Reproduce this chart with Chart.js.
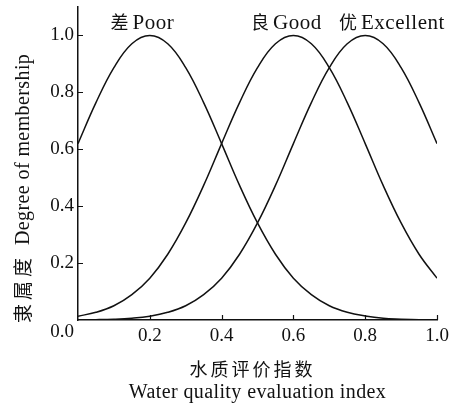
<!DOCTYPE html>
<html>
<head>
<meta charset="utf-8">
<script src="https://cdn.jsdelivr.net/npm/chart.js@4/dist/chart.umd.min.js"></script>
<style>
  html, body { margin: 0; padding: 0; background: #fff; }
</style>
</head>
<body>
<canvas id="chart" width="450" height="404"></canvas>
<script>
// 水质评价指数（横轴取样点）
const xs = [0, 0.05, 0.1, 0.15, 0.2, 0.25, 0.3, 0.35, 0.4, 0.45, 0.5,
            0.55, 0.6, 0.65, 0.7, 0.75, 0.8, 0.85, 0.9, 0.95, 1.0];
// 隶属度 —— 差 / 良 / 优
const poor      = [0.62, 0.764, 0.887, 0.971, 1.0, 0.971, 0.887, 0.764, 0.62, 0.473, 0.341,
                   0.231, 0.147, 0.089, 0.05, 0.027, 0.014, 0.006, 0.003, 0.001, 0.0005];
const good      = [0.0135, 0.027, 0.05, 0.089, 0.147, 0.231, 0.341, 0.473, 0.62, 0.764, 0.887,
                   0.971, 1.0, 0.971, 0.887, 0.764, 0.62, 0.473, 0.341, 0.231, 0.147];
const excellent = [0.0005, 0.0012, 0.0028, 0.0064, 0.0135, 0.027, 0.05, 0.089, 0.147, 0.231, 0.341,
                   0.473, 0.62, 0.764, 0.887, 0.971, 1.0, 0.971, 0.887, 0.764, 0.62];
const xTicks = [0.2, 0.4, 0.6, 0.8, 1.0];
const yTicks = [0.2, 0.4, 0.6, 0.8, 1.0];
const curveLabels = ['差 Poor', '良 Good', '优 Excellent'];
const xTitle = ['水质评价指数', 'Water quality evaluation index'];
const yTitle = ['隶属度', 'Degree of membership'];

const INK = '#111';
const SERIF = '"Liberation Serif", "Noto Sans CJK SC", serif';
const CJK = '"Noto Sans CJK SC", "Liberation Serif", sans-serif';

const toPts = ys => xs.map((x, i) => ({ x: x, y: ys[i] }));

// 内向刻度、曲线标注、坐标轴标题
const decor = {
  id: 'decor',
  afterDraw(chart) {
    const ctx = chart.ctx, xa = chart.scales.x, ya = chart.scales.y;
    const ca = chart.chartArea;
    ctx.save();
    ctx.strokeStyle = INK;
    ctx.lineWidth = 1.2;
    ctx.beginPath();
    xTicks.forEach(v => {
      const px = Math.round(xa.getPixelForValue(v)) + 0.5;
      ctx.moveTo(px, ca.bottom); ctx.lineTo(px, ca.bottom - 5);
    });
    yTicks.forEach(v => {
      const py = Math.round(ya.getPixelForValue(v)) + 0.5;
      ctx.moveTo(ca.left, py); ctx.lineTo(ca.left + 5, py);
    });
    ctx.stroke();

    ctx.fillStyle = INK;
    // 0.0 at the corner
    ctx.font = '19px ' + SERIF;
    ctx.textAlign = 'right';
    ctx.textBaseline = 'alphabetic';
    ctx.fillText('0.0', ca.left - 4, ca.bottom + 17);

    // curve labels: 中文字 + 英文
    const lx = [0.21, 0.611, 0.905];
    curveLabels.forEach((t, i) => {
      const [zh, en] = t.split(' ');
      const px = xa.getPixelForValue(lx[i]);
      ctx.font = '21px ' + SERIF;
      ctx.letterSpacing = '0.5px';
      ctx.textAlign = 'center';
      const w = ctx.measureText(en).width;
      ctx.fillText(en, px, 29);
      ctx.font = '18px ' + CJK;
      ctx.letterSpacing = '0px';
      ctx.textAlign = 'right';
      ctx.fillText(zh, px - w / 2 - 4, 29);
    });

    // x title
    const cx = (ca.left + ca.right) / 2;
    ctx.textAlign = 'center';
    ctx.font = '18px ' + CJK;
    ctx.letterSpacing = '3px';
    ctx.fillText(xTitle[0], cx - 5, 376);
    ctx.font = '20px ' + SERIF;
    ctx.letterSpacing = '0.4px';
    ctx.fillText(xTitle[1], cx, 398);

    // y title (rotated)
    ctx.translate(29, 0);
    ctx.rotate(-Math.PI / 2);
    ctx.textAlign = 'left';
    ctx.font = '19px ' + CJK;
    ctx.letterSpacing = '4px';
    ctx.fillText(yTitle[0], -323, 1);
    ctx.font = '20px ' + SERIF;
    ctx.letterSpacing = '0.4px';
    ctx.fillText(yTitle[1], -245, 0);
    ctx.restore();
  }
};

const lineDs = (label, ys) => ({
  label: label,
  data: toPts(ys),
  borderColor: INK,
  borderWidth: 1.5,
  pointRadius: 0,
  fill: false,
  tension: 0.4
});

new Chart(document.getElementById('chart').getContext('2d'), {
  type: 'line',
  data: {
    datasets: [
      lineDs(curveLabels[0], poor),
      lineDs(curveLabels[1], good),
      lineDs(curveLabels[2], excellent)
    ]
  },
  options: {
    responsive: false,
    animation: false,
    layout: { padding: { top: 7, right: 13, left: 0, bottom: 0 } },
    plugins: { legend: { display: false }, tooltip: { enabled: false } },
    scales: {
      x: {
        type: 'linear', min: 0, max: 1,
        afterBuildTicks: s => { s.ticks = xTicks.map(v => ({ value: v })); },
        afterFit: s => { s.height = 84; s.paddingLeft = 0; s.paddingRight = 0; },
        grid: { display: false, drawTicks: false },
        border: { display: true, color: INK, width: 1.5 },
        ticks: { color: INK, padding: 5, font: { family: SERIF, size: 19 },
                 callback: v => v.toFixed(1) }
      },
      y: {
        type: 'linear', min: 0, max: 1.1,
        afterBuildTicks: s => { s.ticks = yTicks.map(v => ({ value: v })); },
        afterFit: s => { s.width = 78; s.paddingTop = 0; s.paddingBottom = 0; },
        grid: { display: false, drawTicks: false },
        border: { display: true, color: INK, width: 1.5 },
        ticks: { color: INK, padding: 4, font: { family: SERIF, size: 19 },
                 callback: v => v.toFixed(1) }
      }
    }
  },
  plugins: [decor]
});
</script>
</body>
</html>
